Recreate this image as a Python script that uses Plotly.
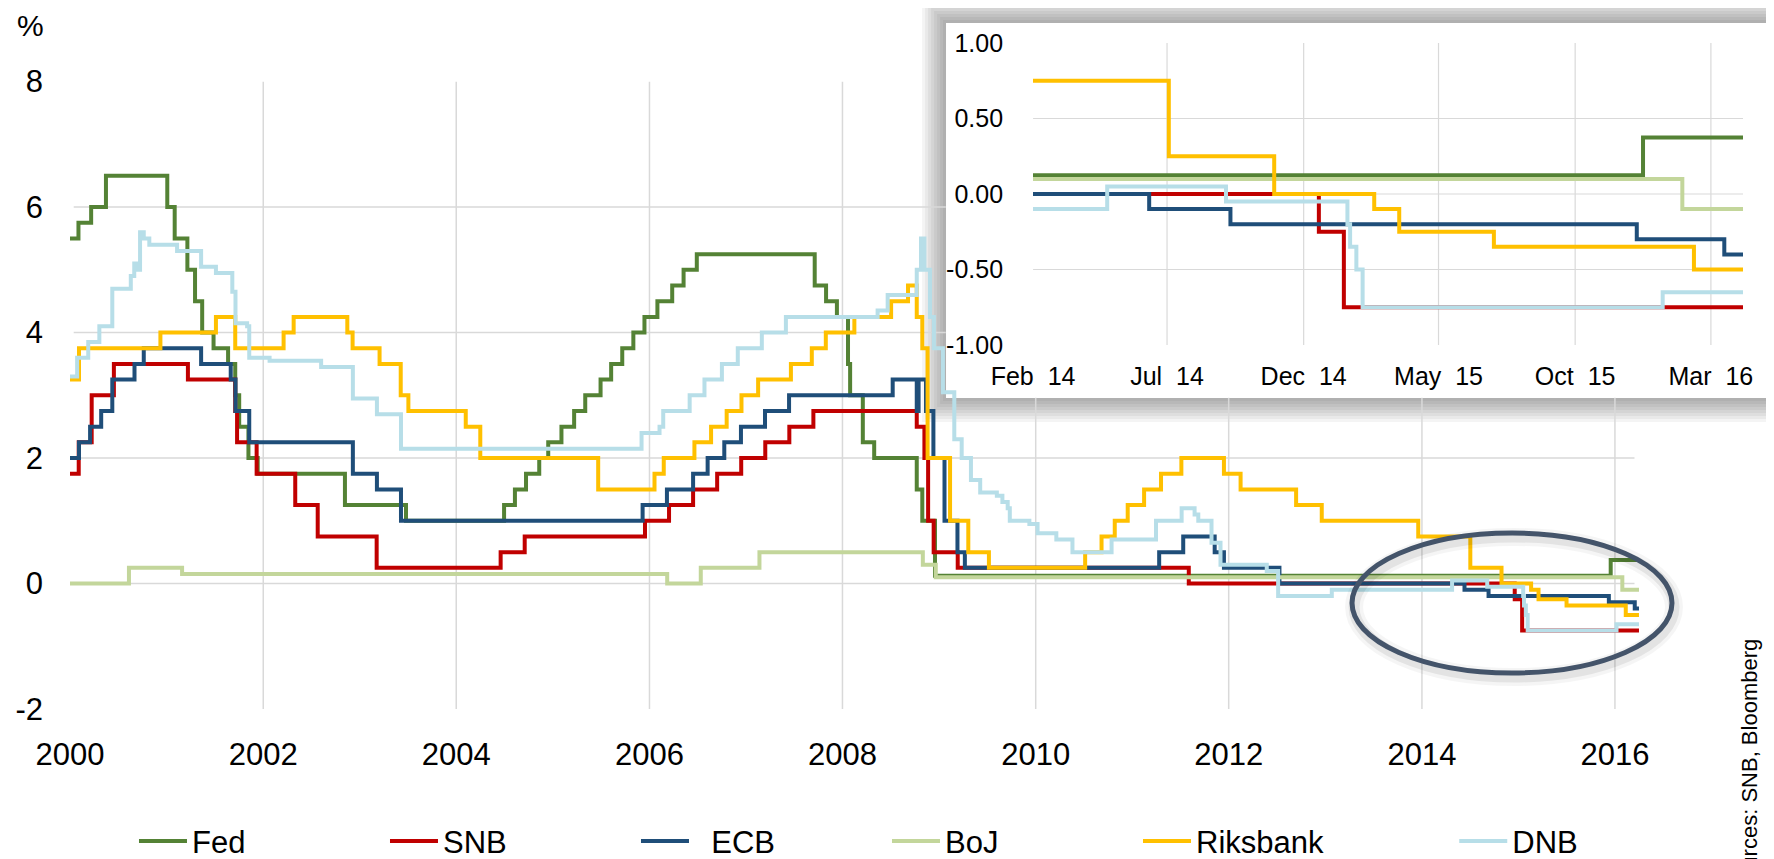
import plotly.graph_objects as go

# Policy rates, step series (date of change, new level in %)
END = "2016-04-06"

fed_dates = ["2000-01-01", "2000-02-02", "2000-03-21", "2000-05-16", "2001-01-03", "2001-01-31",
             "2001-03-20", "2001-04-18", "2001-05-15", "2001-06-27", "2001-08-21", "2001-09-17",
             "2001-10-02", "2001-11-06", "2001-12-11", "2002-11-06", "2003-06-25", "2004-06-30",
             "2004-08-10", "2004-09-21", "2004-11-10", "2004-12-14", "2005-02-02", "2005-03-22",
             "2005-05-03", "2005-06-30", "2005-08-09", "2005-09-20", "2005-11-01", "2005-12-13",
             "2006-01-31", "2006-03-28", "2006-05-10", "2006-06-29", "2007-09-18", "2007-10-31",
             "2007-12-11", "2008-01-22", "2008-01-30", "2008-03-18", "2008-04-30", "2008-10-08",
             "2008-10-29", "2008-12-16", "2015-12-16"]
fed_rates = [5.5, 5.75, 6.0, 6.5, 6.0, 5.5,
             5.0, 4.5, 4.0, 3.75, 3.5, 3.0,
             2.5, 2.0, 1.75, 1.25, 1.0, 1.25,
             1.5, 1.75, 2.0, 2.25, 2.5, 2.75,
             3.0, 3.25, 3.5, 3.75, 4.0, 4.25,
             4.5, 4.75, 5.0, 5.25, 4.75, 4.5,
             4.25, 3.5, 3.0, 2.25, 2.0, 1.5,
             1.0, 0.125, 0.375]

snb_dates = ["2000-01-01", "2000-02-03", "2000-03-23", "2000-06-15", "2001-03-22", "2001-09-17",
             "2001-09-24", "2001-12-07", "2002-05-02", "2002-07-26", "2003-03-06", "2004-06-17",
             "2004-09-16", "2005-12-15", "2006-03-16", "2006-06-15", "2006-09-14", "2006-12-14",
             "2007-03-15", "2007-06-14", "2007-09-13", "2008-10-08", "2008-11-06", "2008-11-20",
             "2008-12-11", "2009-03-12", "2011-08-03", "2014-12-18", "2015-01-15"]
snb_rates = [1.75, 2.25, 3.0, 3.5, 3.25, 2.75,
             2.25, 1.75, 1.25, 0.75, 0.25, 0.5,
             0.75, 1.0, 1.25, 1.5, 1.75, 2.0,
             2.25, 2.5, 2.75, 2.5, 2.0, 1.0,
             0.5, 0.25, 0.0, -0.25, -0.75]

ecb_dates = ["2000-01-01", "2000-02-04", "2000-03-17", "2000-04-28", "2000-06-09", "2000-09-01",
             "2000-10-06", "2001-05-11", "2001-08-31", "2001-09-18", "2001-11-09", "2002-12-06",
             "2003-03-07", "2003-06-06", "2005-12-06", "2006-03-08", "2006-06-15", "2006-08-09",
             "2006-10-11", "2006-12-13", "2007-03-14", "2007-06-13", "2008-07-09", "2008-10-08",
             "2008-10-15", "2008-11-12", "2008-12-10", "2009-01-21", "2009-03-11", "2009-04-08",
             "2011-04-13", "2011-07-13", "2011-11-09", "2011-12-14", "2012-07-11", "2014-06-11",
             "2014-09-10", "2015-12-09", "2016-03-16"]
ecb_rates = [2.0, 2.25, 2.5, 2.75, 3.25, 3.5,
             3.75, 3.5, 3.25, 2.75, 2.25, 1.75,
             1.5, 1.0, 1.25, 1.5, 1.75, 2.0,
             2.25, 2.5, 2.75, 3.0, 3.25, 2.75,
             3.25, 2.75, 2.0, 1.0, 0.5, 0.25,
             0.5, 0.75, 0.5, 0.25, 0.0, -0.1,
             -0.2, -0.3, -0.4]

boj_dates = ["2000-01-01", "2000-08-11", "2001-02-28", "2006-03-09", "2006-07-14", "2007-02-21",
             "2008-10-31", "2008-12-19", "2016-01-29"]
boj_rates = [0.0, 0.25, 0.15, 0.0, 0.25, 0.5,
             0.3, 0.1, -0.1]

riks_dates = ["2000-01-01", "2000-02-04", "2000-12-08", "2001-07-06", "2001-09-17", "2002-03-19",
              "2002-04-26", "2002-11-15", "2002-12-05", "2003-03-17", "2003-06-05", "2003-07-04",
              "2004-02-06", "2004-04-01", "2005-06-21", "2006-01-20", "2006-02-24", "2006-06-20",
              "2006-08-22", "2006-10-20", "2006-12-15", "2007-02-16", "2007-06-20", "2007-09-07",
              "2007-10-30", "2008-02-15", "2008-07-03", "2008-09-05", "2008-10-08", "2008-10-29",
              "2008-11-18", "2009-02-11", "2009-04-21", "2009-07-08", "2010-07-07", "2010-09-07",
              "2010-10-27", "2010-12-15", "2011-02-15", "2011-04-20", "2011-07-06", "2011-12-14",
              "2012-02-15", "2012-09-12", "2012-12-18", "2013-12-18", "2014-07-03", "2014-10-29",
              "2015-02-18", "2015-03-18", "2015-07-02", "2016-02-11"]
riks_rates = [3.25, 3.75, 4.0, 4.25, 3.75, 4.0,
              4.25, 4.0, 3.75, 3.5, 3.0, 2.75,
              2.5, 2.0, 1.5, 1.75, 2.0, 2.25,
              2.5, 2.75, 3.0, 3.25, 3.5, 3.75,
              4.0, 4.25, 4.5, 4.75, 4.25, 3.75,
              2.0, 1.0, 0.5, 0.25, 0.5, 0.75,
              1.0, 1.25, 1.5, 1.75, 2.0, 1.75,
              1.5, 1.25, 1.0, 0.75, 0.25, 0.0,
              -0.1, -0.25, -0.35, -0.5]

dnb_dates = ["2000-01-01", "2000-01-28", "2000-03-10", "2000-04-21", "2000-06-09", "2000-08-18",
             "2000-08-31", "2000-09-08", "2000-09-22", "2000-10-06", "2000-10-27", "2001-02-09",
             "2001-05-11", "2001-07-06", "2001-09-06", "2001-09-18", "2001-11-01", "2001-11-09",
             "2002-01-25", "2002-08-08", "2002-12-06", "2003-03-07", "2003-06-06", "2005-12-02",
             "2006-02-08", "2006-02-22", "2006-06-02", "2006-07-28", "2006-10-02", "2006-12-01",
             "2007-03-02", "2007-06-01", "2008-05-13", "2008-06-20", "2008-10-08", "2008-10-24",
             "2008-11-06", "2008-11-27", "2008-12-12", "2009-01-15", "2009-02-27", "2009-03-27",
             "2009-05-01", "2009-06-05", "2009-08-07", "2009-08-28", "2009-09-17", "2009-09-25",
             "2009-12-08", "2010-01-08", "2010-03-20", "2010-05-20", "2010-10-15", "2011-04-01",
             "2011-07-07", "2011-08-25", "2011-09-08", "2011-10-28", "2011-12-01", "2012-05-24",
             "2012-07-06", "2013-01-25", "2014-04-25", "2014-09-05", "2015-01-19", "2015-01-22",
             "2015-01-29", "2015-02-05", "2016-01-07"]
dnb_rates = [3.3, 3.6, 3.85, 4.1, 4.7, 4.9,
             5.1, 5.0, 5.6, 5.5, 5.4, 5.3,
             5.05, 4.95, 4.65, 4.15, 4.1, 3.6,
             3.55, 3.45, 2.95, 2.7, 2.15, 2.4,
             2.5, 2.75, 3.0, 3.25, 3.5, 3.75,
             4.0, 4.25, 4.35, 4.6, 5.0, 5.5,
             5.0, 4.25, 3.75, 3.05, 2.3, 2.0,
             1.65, 1.45, 1.4, 1.3, 1.2, 1.0,
             0.95, 0.8, 0.7, 0.5, 0.7, 1.0,
             1.2, 1.1, 1.0, 0.65, 0.3, 0.2,
             -0.2, -0.1, 0.05, -0.05, -0.2, -0.35,
             -0.5, -0.75, -0.65]

SERIES = [
    ("Fed", fed_dates, fed_rates, "#548235"),
    ("SNB", snb_dates, snb_rates, "#c00000"),
    ("\u00a0\u00a0ECB", ecb_dates, ecb_rates, "#1f4e79"),
    ("BoJ", boj_dates, boj_rates, "#c3d69b"),
    ("Riksbank", riks_dates, riks_rates, "#ffc000"),
    ("DNB", dnb_dates, dnb_rates, "#b7dee8"),
]

main_years = ["2002", "2004", "2006", "2008", "2010", "2012", "2014", "2016"]
main_yticks = [-2, 0, 2, 4, 6, 8]
inset_ticks = ["2014-02-01", "2014-07-01", "2014-12-01", "2015-05-01", "2015-10-01", "2016-03-01"]
inset_labels = ["Feb  14", "Jul  14", "Dec  14", "May  15", "Oct  15", "Mar  16"]
inset_yticks = [-1, -0.5, 0, 0.5, 1]

FONT = "Liberation Sans, Arial, sans-serif"
GRID = "#d9d9d9"
MAIN_END = "2016-04-01"
INSET_START = "2014-02-01"
BOX_EDGE = "2009-01-26"     # left edge of the inset box, in main-chart dates
BOX_LOW = 2.96              # bottom edge of the inset box, in main-chart %

# the page adds an 8px body margin, so the figure is 16px smaller than the window;
# plot area on screen: x 70..1754, y 40..709
PX, PY = 1 / 1684, 1 / 669

fig = go.Figure()

for name, dates, rates, color in SERIES:
    x = dates + [END]
    y = rates + [rates[-1]]
    fig.add_trace(go.Scatter(
        x=x, y=y, name=name, mode="lines", line=dict(color=color, width=4, shape="hv"),
        legend="legend2" if name == "DNB" else "legend",
    ))
    fig.add_trace(go.Scatter(
        x=x, y=y, mode="lines", line=dict(color=color, width=4, shape="hv"),
        xaxis="x2", yaxis="y2", showlegend=False,
    ))

shapes = []

# inset box with a soft shadow around it
box = dict(x0=0.5202, x1=1.03, y0=0.4649, y1=1.0254)
for i in range(8, 0, -1):
    d = i * 3
    shapes.append(dict(type="rect", xref="paper", yref="paper", layer="below",
                       x0=box["x0"] - d * PX, x1=box["x1"],
                       y0=box["y0"] - d * PY, y1=box["y1"] + d * PY,
                       line=dict(width=0), fillcolor="rgba(0,0,0,0.045)"))
shapes.append(dict(type="rect", xref="paper", yref="paper", layer="below",
                   line=dict(width=0), fillcolor="white", **box))

# main gridlines, stopping at the inset box
for yr in main_years:
    top = 8 if yr < "2009" else BOX_LOW
    shapes.append(dict(type="line", xref="x", yref="y", layer="below",
                       x0=yr + "-01-01", x1=yr + "-01-01", y0=-2, y1=top,
                       line=dict(color=GRID, width=1.5)))
for lvl in [6, 4, 2, 0]:
    right = BOX_EDGE if lvl > BOX_LOW else "2016-03-15"
    shapes.append(dict(type="line", xref="x", yref="y", layer="below",
                       x0="2000-01-15", x1=right, y0=lvl, y1=lvl,
                       line=dict(color=GRID, width=1.5)))

# inset gridlines
for t in inset_ticks[1:]:
    shapes.append(dict(type="line", xref="x2", yref="y2", layer="below",
                       x0=t, x1=t, y0=-1, y1=1, line=dict(color=GRID, width=1.2)))
for lvl in [0.5, 0, -0.5]:
    shapes.append(dict(type="line", xref="x2", yref="y2", layer="below",
                       x0=INSET_START, x1=END, y0=lvl, y1=lvl, line=dict(color=GRID, width=1.2)))

# highlight ellipse around the recent negative rates
for w, a in [(18, 0.04), (11, 0.07)]:
    shapes.append(dict(type="circle", xref="paper", yref="paper", layer="above",
                       x0=0.7625, x1=0.9525, y0=0.0478, y1=0.2571,
                       line=dict(color=f"rgba(0,0,0,{a})", width=w)))
shapes.append(dict(type="circle", xref="paper", yref="paper", layer="above",
                   x0=0.7613, x1=0.9513, y0=0.0538, y1=0.2631,
                   line=dict(color="#44546a", width=5)))

legend_style = dict(orientation="h", y=-0.198, xanchor="left", yanchor="middle",
                    itemwidth=48, font=dict(size=31), bgcolor="rgba(0,0,0,0)")

fig.update_layout(
    width=1766, height=851,
    margin=dict(l=62, r=20, t=32, b=150, autoexpand=False),
    paper_bgcolor="white", plot_bgcolor="rgba(0,0,0,0)",
    font=dict(family=FONT, size=30, color="black"),
    shapes=shapes,
    xaxis=dict(domain=[0, 0.9317], type="date", range=["2000-01-01", MAIN_END],
               tick0="2000-01-01", dtick="M24", tickformat="%Y",
               showgrid=False, zeroline=False, showline=False, ticks="",
               automargin=False, ticklabelstandoff=24, tickfont=dict(size=31)),
    yaxis=dict(domain=[0, 0.9378], range=[-2, 8], tickvals=main_yticks,
               ticktext=[str(v) for v in main_yticks],
               showgrid=False, zeroline=False, showline=False, ticks="",
               automargin=False, ticklabelstandoff=26, tickfont=dict(size=31)),
    xaxis2=dict(domain=[0.5719, 0.9935], anchor="y2", type="date", range=[INSET_START, END],
                tickvals=inset_ticks, ticktext=inset_labels,
                showgrid=False, zeroline=False, showline=False, ticks="",
                automargin=False, ticklabelstandoff=14, tickfont=dict(size=25)),
    yaxis2=dict(domain=[0.5441, 0.9955], anchor="x2", range=[-1, 1],
                tickvals=inset_yticks, ticktext=[f"{v:.2f}" for v in inset_yticks],
                showgrid=False, zeroline=False, showline=False, ticks="",
                automargin=False, ticklabelstandoff=29, tickfont=dict(size=25)),
    legend=dict(x=0.038, entrywidth=188, entrywidthmode="pixels", **legend_style),
    legend2=dict(x=0.822, **legend_style),
    annotations=[
        dict(text="%", xref="paper", yref="paper", x=-0.0235, y=1.0224,
             xanchor="center", yanchor="middle", showarrow=False, font=dict(size=30)),
        dict(text="Sources: SNB, Bloomberg", xref="paper", yref="paper",
             x=0.9976, y=0.109, xanchor="center", yanchor="top", textangle=-90,
             showarrow=False, font=dict(size=22)),
    ],
)

fig.write_html("out.html")
